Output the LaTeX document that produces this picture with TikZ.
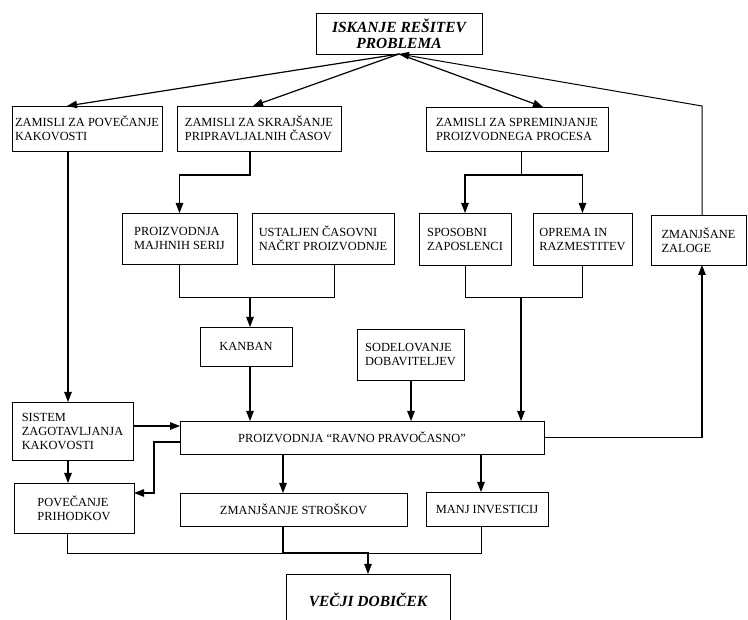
\documentclass[tikz,border=0pt]{standalone}
\usepackage{fontspec}
\setmainfont{Liberation Serif}
\usetikzlibrary{arrows.meta}
\begin{document}
\begin{tikzpicture}[x=1pt,y=-1pt,
  box/.style={draw, line width=0.8pt, inner sep=0pt, outer sep=0pt, align=left,
    font=\fontsize{12.4}{14}\selectfont},
  bigbox/.style={box, align=center, font=\fontsize{15.5}{16}\selectfont\bfseries\itshape},
  tip/.style={-{Triangle[length=10pt,width=7.5pt]}},
  arr/.style={line width=1.2pt, tip},
  ln/.style={line width=0.8pt}]
\useasboundingbox (0,0) rectangle (748,620);
\clip (0,0) rectangle (748,620);
\fill[white] (0,0) rectangle (748,620);

% boxes
\node[bigbox, minimum width=166pt, minimum height=41pt] (top) at (399,33.5) {ISKANJE REŠITEV\\PROBLEMA};
\node[box, minimum width=150pt, minimum height=45pt] (zq) at (87,128.5) {ZAMISLI ZA POVEČANJE\\KAKOVOSTI};
\node[box, minimum width=164pt, minimum height=45pt] (zs) at (259,128.5) {ZAMISLI ZA SKRAJŠANJE\\PRIPRAVLJALNIH ČASOV};
\node[box, minimum width=182pt, minimum height=44pt] (zp) at (517,129) {ZAMISLI ZA SPREMINJANJE\\PROIZVODNEGA PROCESA};
\node[box, minimum width=115pt, minimum height=51pt] (mser) at (179.5,238.5) {PROIZVODNJA\\MAJHNIH SERIJ};
\node[box, minimum width=142pt, minimum height=51pt] (ust) at (323,238.5) {USTALJEN ČASOVNI\\NAČRT PROIZVODNJE};
\node[box, minimum width=92pt, minimum height=52pt] (spos) at (465,239) {SPOSOBNI\\ZAPOSLENCI};
\node[box, minimum width=99pt, minimum height=52pt] (opr) at (582.5,239) {OPREMA IN\\RAZMESTITEV};
\node[box, minimum width=95pt, minimum height=50pt] (zal) at (698.5,240) {ZMANJŠANE\\ZALOGE};
\node[box, minimum width=92pt, minimum height=39pt] (kanban) at (246,346.5) {KANBAN};
\node[box, minimum width=107pt, minimum height=51pt] (sod) at (410.5,354.5) {SODELOVANJE\\DOBAVITELJEV};
\node[box, minimum width=121pt, minimum height=58pt] (sist) at (72.5,431) {SISTEM\\ZAGOTAVLJANJA\\KAKOVOSTI};
\node[box, minimum width=364pt, minimum height=33pt] (ravno) at (362,437.5) {PROIZVODNJA “RAVNO PRAVOČASNO”\hspace*{20pt}};
\node[box, minimum width=120pt, minimum height=50pt] (povp) at (74,508) {POVEČANJE\\PRIHODKOV};
\node[box, minimum width=227pt, minimum height=33pt] (zstr) at (293.5,509.5) {ZMANJŠANJE STROŠKOV};
\node[box, minimum width=122pt, minimum height=34pt] (manj) at (487,509) {MANJ INVESTICIJ};
\node[bigbox, minimum width=164pt, minimum height=52pt] (vecji) at (368,600) {VEČJI DOBIČEK};

% connectors from the top
\draw[arr] (top.south) -- ([xshift=-20pt]zq.north);
\draw[arr] (top.south) -- ([xshift=-6pt]zs.north);
\draw[arr] (top.south) -- ([xshift=26pt]zp.north);
\draw[line width=1pt, tip] ([xshift=3.5pt]zal.north) -- ([xshift=3.5pt]zal.north |- zq.north) -- (top.south);

% left column
\draw[arr] ([xshift=-19pt]zq.south) -- ([xshift=-19pt]zq.south |- sist.north);
\draw[arr] ([xshift=-4.5pt]sist.south) -- ([xshift=-4.5pt]sist.south |- povp.north);
\draw[arr] ([yshift=5pt]sist.east) -- ([yshift=5pt]sist.east -| ravno.west);
\draw[arr] ([yshift=-4.5pt]ravno.west) -- ++(-26,0) |- ([yshift=15pt]povp.east);

% middle column
\draw[arr] ([xshift=-9pt]zs.south) -- ++(0,24) -| (mser.north);
\draw[ln] (mser.south) -- ++(0,33) -| ([xshift=11pt]ust.south);
\coordinate (m1) at (250,297);
\draw[arr] (m1) -- ([xshift=4pt]kanban.north);
\draw[arr] ([xshift=4pt]kanban.south) -- ([xshift=4pt]kanban.south |- ravno.north);
\draw[arr] ([xshift=0.5pt]sod.south) -- ([xshift=0.5pt]sod.south |- ravno.north);

% right column
\draw[ln] ([xshift=4pt]zp.south) -- ++(0,24) coordinate (s1);
\draw[arr] (s1) -| (spos.north);
\draw[arr] (s1) -| (opr.north);
\draw[ln] (spos.south) -- ++(0,32) -| (opr.south);
\coordinate (m2) at (521,297);
\draw[arr] (m2) -- (m2 |- ravno.north);
\draw[arr] (ravno.east) -| ([xshift=3.5pt]zal.south);

% bottom
\draw[arr] ([xshift=-10.5pt]zstr.north |- ravno.south) -- ([xshift=-10.5pt]zstr.north);
\draw[arr] ([xshift=-6pt]manj.north |- ravno.south) -- ([xshift=-6pt]manj.north);
\draw[ln] ([xshift=-7pt]povp.south) -- ++(0,20) -| ([xshift=-6pt]manj.south);
\draw[arr] ([xshift=-10.5pt]zstr.south) -- ++(0,27) -| (vecji.north);
\end{tikzpicture}
\end{document}
